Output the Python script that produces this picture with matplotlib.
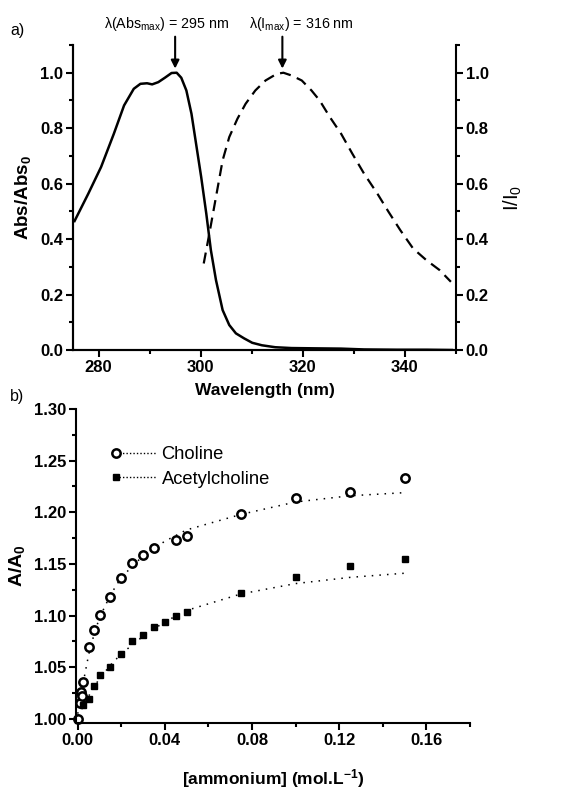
import numpy as np
import matplotlib
matplotlib.use("Agg")
import matplotlib.pyplot as plt
from matplotlib.ticker import MultipleLocator, FormatStrFormatter
from matplotlib.lines import Line2D
from matplotlib.legend_handler import HandlerBase

plt.rcParams['font.family'] = ['Liberation Sans', 'DejaVu Sans']
plt.rcParams['mathtext.fontset'] = 'custom'
plt.rcParams['mathtext.rm'] = 'Liberation Sans'
plt.rcParams['mathtext.bf'] = 'Liberation Sans:bold'
plt.rcParams['mathtext.it'] = 'Liberation Sans:italic'
plt.rcParams['mathtext.default'] = 'regular'

# ---------------- Panel a data ----------------
abs_wl = [275.3, 278, 280.5, 283.0, 285, 286.9, 288.2, 289.5, 290.5, 291.7, 293, 294.3,
          295.3, 296.2, 297.2, 298.2, 299.1, 300.1, 301.1, 302.0, 303.0, 304.3, 305.6,
          306.9, 308.5, 310.1, 312, 314.6, 317.8, 322.3, 327.5, 332, 338.4, 344.2, 349.2]
abs_val = [0.465, 0.564, 0.66, 0.78, 0.882, 0.942, 0.96, 0.962, 0.958, 0.966, 0.982, 0.999,
           1.0, 0.982, 0.936, 0.852, 0.744, 0.624, 0.492, 0.36, 0.252, 0.144, 0.09,
           0.06, 0.042, 0.026, 0.017, 0.01, 0.007, 0.006, 0.005, 0.002, 0.001, 0.001, 0.0]

em_wl = [300.6, 301.7, 303.0, 304.3, 305.6, 307.2, 308.8, 310.7, 312.7, 314.9, 316.2, 317.8,
         319.8, 321.7, 323.3, 325.3, 327.5, 329.7, 332.0, 334.6, 336.8, 339.1, 341.6, 344.2,
         346.8, 349.0]
em_val = [0.312, 0.42, 0.552, 0.684, 0.768, 0.834, 0.888, 0.936, 0.972, 0.996, 1.0, 0.99,
          0.972, 0.936, 0.9, 0.84, 0.78, 0.708, 0.636, 0.564, 0.498, 0.432, 0.366, 0.324,
          0.288, 0.246]

abs_peak = 295
em_peak = 316

# ---------------- Panel b data ----------------
cho_x = [0, 0.001, 0.0015, 0.002, 0.0025, 0.005, 0.0075, 0.01, 0.015, 0.02, 0.025, 0.03,
         0.035, 0.045, 0.05, 0.075, 0.1, 0.125, 0.15]
cho_y = [1.000, 1.015, 1.026, 1.022, 1.036, 1.070, 1.086, 1.101, 1.118, 1.136, 1.151, 1.159,
         1.165, 1.173, 1.177, 1.198, 1.214, 1.220, 1.233]

ach_x = [0.0025, 0.005, 0.0075, 0.01, 0.015, 0.02, 0.025, 0.03, 0.035, 0.04, 0.045, 0.05,
         0.075, 0.1, 0.125, 0.15]
ach_y = [1.0135, 1.019, 1.032, 1.042, 1.0506, 1.063, 1.075, 1.081, 1.0887, 1.094, 1.0997,
         1.103, 1.122, 1.137, 1.148, 1.155]

fit_x = [0, 0.0025, 0.005, 0.0075, 0.01, 0.015, 0.02, 0.03, 0.04, 0.05, 0.075, 0.1, 0.125, 0.15]
cho_fit = [1.005, 1.035, 1.062, 1.082, 1.098, 1.120, 1.137, 1.158, 1.172, 1.183, 1.198, 1.210,
           1.216, 1.219]
ach_fit = [1.003, 1.012, 1.022, 1.031, 1.039, 1.052, 1.063, 1.080, 1.094, 1.105, 1.121, 1.131,
           1.137, 1.141]

# ---------------- Figure ----------------
W, H = 565, 794
fig = plt.figure(figsize=(W / 100, H / 100), dpi=100)

lab_fs = 12.5
tick_fs = 12

def style_ticks(ax):
    ax.tick_params(which='major', direction='out', length=5, width=1.5, labelsize=tick_fs, pad=2)
    ax.tick_params(which='minor', direction='out', length=3, width=1.5)
    for lab in ax.get_xticklabels() + ax.get_yticklabels():
        lab.set_fontweight('bold')
    for s in ax.spines.values():
        s.set_linewidth(1.5)

# Panel a
axa = fig.add_axes([73 / W, 1 - 350 / H, (456 - 73) / W, (350 - 45) / H])
axa.plot(abs_wl, abs_val, color='black', lw=1.8)
axa.set_xlim(275, 350)
axa.set_ylim(0, 1.1)
axa.xaxis.set_major_locator(MultipleLocator(20))
axa.xaxis.set_minor_locator(MultipleLocator(10))
axa.yaxis.set_major_locator(MultipleLocator(0.2))
axa.yaxis.set_minor_locator(MultipleLocator(0.1))
axa.yaxis.set_major_formatter(FormatStrFormatter('%.1f'))
axa.spines['top'].set_visible(False)
axa.spines['right'].set_visible(False)
axa.set_xlabel('Wavelength (nm)', fontsize=lab_fs, fontweight='bold', labelpad=6)
axa.set_ylabel(r'Abs/Abs$_\mathbf{0}$', fontsize=13.5, fontweight='bold', labelpad=5)
style_ticks(axa)

axr = axa.twinx()
axr.plot(em_wl, em_val, color='black', lw=1.6, linestyle=(0, (5, 3)))
axr.set_ylim(0, 1.1)
axr.yaxis.set_major_locator(MultipleLocator(0.2))
axr.yaxis.set_minor_locator(MultipleLocator(0.1))
axr.yaxis.set_major_formatter(FormatStrFormatter('%.1f'))
axr.spines['top'].set_visible(False)
axr.set_ylabel(r'I/I$_0$', fontsize=14.5, rotation=90, labelpad=9)
style_ticks(axr)

for wl, txt, tx in [(abs_peak, r'λ(Abs$_\mathrm{max}$) = 295 nm', 293.3),
                    (em_peak, r'λ(I$_\mathrm{max}$) = 316 nm', 319.8)]:
    axa.annotate('', xy=(wl, 1.015), xytext=(wl, 1.13),
                 arrowprops=dict(arrowstyle='-|>', color='black', lw=1.5,
                                 mutation_scale=12, shrinkA=0, shrinkB=0),
                 annotation_clip=False)
    axa.text(tx, 1.175, txt, ha='center', va='center', fontsize=10.3, clip_on=False)

fig.text(10 / W, 1 - 31 / H, 'a)', fontsize=11.5, va='center', ha='left')

# Panel b
axb = fig.add_axes([76 / W, 1 - 723 / H, (470 - 76) / W, (723 - 409) / H])
axb.plot(fit_x, cho_fit, color='black', lw=1.1, linestyle=(0, (1, 4)))
axb.plot(fit_x, ach_fit, color='black', lw=1.1, linestyle=(0, (1, 4)))
axb.plot(cho_x, cho_y, 'o', mfc='white', mec='black', mew=1.8, ms=6, clip_on=False)
axb.plot(ach_x, ach_y, 's', mfc='black', mec='black', ms=4.5, clip_on=False)
axb.set_xlim(-0.0008, 0.18)
axb.set_ylim(0.996, 1.30)
axb.xaxis.set_major_locator(MultipleLocator(0.04))
axb.xaxis.set_minor_locator(MultipleLocator(0.02))
axb.yaxis.set_major_locator(MultipleLocator(0.05))
axb.yaxis.set_minor_locator(MultipleLocator(0.025))
axb.xaxis.set_major_formatter(FormatStrFormatter('%.2f'))
axb.yaxis.set_major_formatter(FormatStrFormatter('%.2f'))
axb.spines['top'].set_visible(False)
axb.spines['right'].set_visible(False)
axb.set_xlabel(r'[ammonium] (mol.L$^{\mathbf{-1}}$)', fontsize=lab_fs, fontweight='bold', labelpad=14)
axb.set_ylabel(r'A/A$_\mathbf{0}$', fontsize=14, fontweight='bold', labelpad=5)
style_ticks(axb)


class LeftMarker(HandlerBase):
    def create_artists(self, legend, orig_handle, xdescent, ydescent, width, height,
                       fontsize, trans):
        y = (height - ydescent) / 2
        x0 = -xdescent
        line = Line2D([x0 + 0.16 * width, x0 + width], [y, y], color='black', lw=1.0,
                      linestyle=(0, (1, 1.5)), transform=trans)
        mk = Line2D([x0 + 0.08 * width], [y], marker=orig_handle.get_marker(),
                    mfc=orig_handle.get_markerfacecolor(),
                    mec=orig_handle.get_markeredgecolor(),
                    mew=orig_handle.get_markeredgewidth(),
                    ms=orig_handle.get_markersize(), linestyle='none', transform=trans)
        return [line, mk]


h1 = Line2D([], [], marker='o', mfc='white', mec='black', mew=1.8, ms=6, linestyle='none')
h2 = Line2D([], [], marker='s', mfc='black', mec='black', mew=1.0, ms=4.5, linestyle='none')
leg = axb.legend([h1, h2], ['Choline', 'Acetylcholine'], loc='upper left',
                 bbox_to_anchor=((112 - 76) / (470 - 76), (723 - 446) / (723 - 409)),
                 frameon=False, fontsize=13.2, handlelength=2.4, handletextpad=0.3,
                 labelspacing=0.42, borderpad=0, borderaxespad=0,
                 handler_map={h1: LeftMarker(), h2: LeftMarker()})

fig.text(10 / W, 1 - 397 / H, 'b)', fontsize=11.5, va='center', ha='left')

fig.savefig('out.png', dpi=100)
